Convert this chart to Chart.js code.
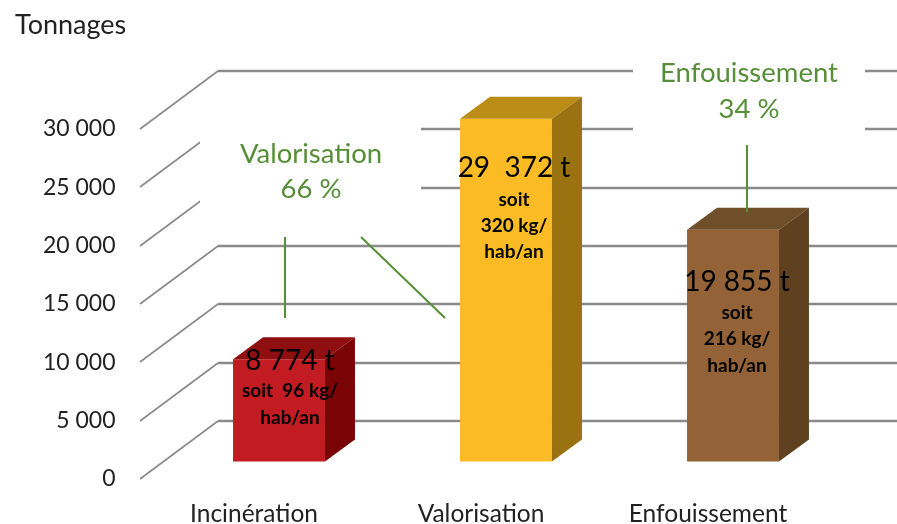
<!DOCTYPE html>
<html lang="fr">
<head>
<meta charset="utf-8">
<title>Tonnages</title>
<script src="https://cdn.jsdelivr.net/npm/chart.js@4"></script>
<style>html,body{margin:0;padding:0;background:#fff}canvas{display:block}</style>
</head>
<body>
<canvas id="c" width="897" height="524"></canvas>
<script>
const categories = ['Incinération', 'Valorisation', 'Enfouissement'];
const tonnages = [8774, 29372, 19855];
const valueLabels = ['8 774 t', '29  372 t', '19 855 t'];
const ratioLabels = [['soit  96 kg/', 'hab/an'], ['soit', '320 kg/', 'hab/an'], ['soit', '216 kg/', 'hab/an']];
const tickValues = [0, 5000, 10000, 15000, 20000, 25000, 30000];
const frontColors = ['#C21C22', '#FBBB24', '#936337'];
const topColors = ['#8F0E10', '#BB8D17', '#6F4E2A'];
const sideColors = ['#7A0303', '#9B7210', '#5F4120'];

const FONT = 'Lato, Carlito, "Open Sans", sans-serif';
const GREEN = '#568F37';

const fmt = v => String(v).replace(/\B(?=(\d{3})+$)/g, ' ');

const scene = {
  id: 'scene',
  beforeDatasetsDraw(chart) {
    const { ctx, scales: { y } } = chart;
    const left = 140, depthX = 78, depthY = 58;
    ctx.save();
    ctx.strokeStyle = '#8A8A8A';
    y.ticks.forEach(t => {
      const py = Math.round(y.getPixelForValue(t.value));
      ctx.lineWidth = 1.6;
      ctx.beginPath();
      ctx.moveTo(left, py);
      ctx.lineTo(left + depthX, py - depthY);
      ctx.stroke();
      ctx.lineWidth = 2.4;
      ctx.beginPath();
      ctx.moveTo(left + depthX, py - depthY);
      ctx.lineTo(chart.width, py - depthY);
      ctx.stroke();
    });
    ctx.fillStyle = '#fff';
    ctx.fillRect(200, 120, 221, 112);
    ctx.fillRect(633, 40, 232, 96);
    ctx.restore();
  },
  afterDatasetsDraw(chart) {
    const { ctx } = chart;
    const meta = chart.getDatasetMeta(0);
    const dx = 30, dy = 22;
    ctx.save();
    meta.data.forEach((bar, i) => {
      const l = bar.x - bar.width / 2, r = bar.x + bar.width / 2, t = bar.y, b = bar.base;
      ctx.fillStyle = topColors[i];
      ctx.beginPath();
      ctx.moveTo(l, t); ctx.lineTo(l + dx, t - dy); ctx.lineTo(r + dx, t - dy); ctx.lineTo(r, t);
      ctx.closePath(); ctx.fill();
      ctx.fillStyle = sideColors[i];
      ctx.beginPath();
      ctx.moveTo(r, t); ctx.lineTo(r + dx, t - dy); ctx.lineTo(r + dx, b - dy); ctx.lineTo(r, b);
      ctx.closePath(); ctx.fill();
    });
    ctx.strokeStyle = GREEN;
    ctx.lineWidth = 2;
    [[285, 237, 285, 318], [361, 237, 445, 318], [747, 145, 747, 212]].forEach(s => {
      ctx.beginPath(); ctx.moveTo(s[0], s[1]); ctx.lineTo(s[2], s[3]); ctx.stroke();
    });
    ctx.fillStyle = GREEN;
    ctx.textAlign = 'center';
    ctx.textBaseline = 'middle';
    ctx.font = '27.5px ' + FONT;
    ctx.fillText('Valorisation', 311, 154);
    ctx.fillText('66 %', 311, 189);
    ctx.fillText('Enfouissement', 749, 73);
    ctx.fillText('34 %', 749, 109);
    const off = [[11, 2, 32, 59], [8, 49, 81, 107, 133], [4, 52, 83, 109, 136]];
    ctx.fillStyle = '#000';
    meta.data.forEach((bar, i) => {
      const o = off[i];
      const cx = bar.x + o[0];
      ctx.font = '28px ' + FONT;
      ctx.fillText(valueLabels[i], cx, bar.y + o[1]);
      ctx.font = 'bold 19px ' + FONT;
      ratioLabels[i].forEach((s, k) => ctx.fillText(s, cx, bar.y + o[k + 2]));
    });
    ctx.restore();
  }
};

new Chart(document.getElementById('c'), {
  type: 'bar',
  data: {
    labels: categories,
    datasets: [{
      label: 'Tonnages',
      data: tonnages,
      yAxisID: 'yBar',
      backgroundColor: frontColors,
      borderWidth: 0,
      categoryPercentage: 1,
      barPercentage: 0.405
    }]
  },
  options: {
    responsive: false,
    animation: false,
    layout: { padding: { left: 15, right: 50.5, top: 0, bottom: 0 } },
    plugins: {
      legend: { display: false },
      tooltip: { enabled: false },
      title: {
        display: true,
        text: 'Tonnages',
        align: 'start',
        color: '#222',
        font: { family: FONT, size: 27, weight: 'normal' },
        padding: { top: 8.8, bottom: 29.8 }
      }
    },
    scales: {
      x: {
        grid: { display: false, drawTicks: false },
        border: { display: false },
        afterFit(s) { s.height = 45; },
        ticks: {
          color: '#222',
          labelOffset: -25,
          padding: 20,
          maxRotation: 0,
          font: { family: FONT, size: 24.5 }
        }
      },
      y: {
        min: 0,
        max: 34971,
        grid: { display: false, drawTicks: false },
        border: { display: false },
        afterFit(s) { s.width = 150.5; s.paddingTop = 0; s.paddingBottom = 0; },
        afterBuildTicks(s) { s.ticks = tickValues.map(value => ({ value })); },
        ticks: {
          color: '#222',
          padding: 50,
          font: { family: FONT, size: 23 },
          callback: v => fmt(v)
        }
      },
      yBar: {
        display: false,
        min: -1500,
        max: 33471
      }
    }
  },
  plugins: [scene]
});
</script>
</body>
</html>
